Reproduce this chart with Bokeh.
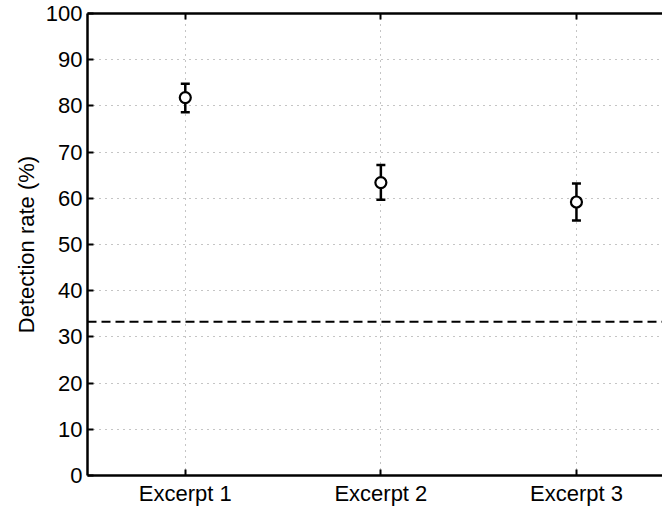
from bokeh.plotting import figure
from bokeh.models import Range1d, LinearAxis, FixedTicker, Span, Whisker, ColumnDataSource, CustomJSTickFormatter
from bokeh.embed import file_html
from bokeh.resources import INLINE

categories = ["Excerpt 1", "Excerpt 2", "Excerpt 3"]
positions = [1, 2, 3]
means = [81.8, 63.4, 59.2]
upper = [84.8, 67.2, 63.2]
lower = [78.6, 59.7, 55.2]
chance = 33.3
y_ticks = list(range(0, 101, 10))

FONT = "Liberation Sans"
FS = "22px"

p = figure(width=662, height=508, output_backend="svg", toolbar_location=None,
           x_range=Range1d(0.5, 3.44), y_range=Range1d(0, 100),
           min_border_left=87, min_border_right=0, min_border_top=13, min_border_bottom=33)
p.outline_line_color = None
p.background_fill_color = "white"

for g in (p.xgrid, p.ygrid):
    g.grid_line_color = "#8a8a8a"
    g.grid_line_dash = "1 5"
    g.grid_line_width = 1
p.xaxis.ticker = FixedTicker(ticks=positions)
p.yaxis.ticker = FixedTicker(ticks=y_ticks)
p.xaxis.major_label_overrides = {pos: c for pos, c in zip(positions, categories)}

for ax in (p.xaxis, p.yaxis):
    ax.axis_line_width = 2.5
    ax.axis_line_color = "black"
    ax.major_tick_in = 6
    ax.major_tick_out = 0
    ax.major_tick_line_width = 2
    ax.minor_tick_line_color = None
    ax.major_label_text_font = FONT
    ax.major_label_text_font_size = FS
    ax.major_label_text_color = "black"
    ax.major_label_standoff = 5

p.yaxis.axis_label = "Detection rate (%)"
p.yaxis.axis_label_text_font = FONT
p.yaxis.axis_label_text_font_size = FS
p.yaxis.axis_label_text_font_style = "normal"
p.yaxis.axis_label_text_color = "black"
p.yaxis.axis_label_standoff = 4

top = LinearAxis(ticker=FixedTicker(ticks=positions), axis_line_width=2.5,
                 major_tick_in=6, major_tick_out=0, major_tick_line_width=2,
                 minor_tick_line_color=None,
                 formatter=CustomJSTickFormatter(code="return ''"),
                 major_label_standoff=0)
p.add_layout(top, "above")

p.add_layout(Span(location=chance, dimension="width", line_color="black",
                  line_width=2, line_dash="9 5"))

src = ColumnDataSource(dict(x=positions, y=means, lo=lower, hi=upper))
w = Whisker(base="x", upper="hi", lower="lo", source=src, line_width=2.5,
            line_color="black")
w.upper_head.size = 9
w.lower_head.size = 9
w.upper_head.line_width = 2.5
w.lower_head.line_width = 2.5
p.add_layout(w)
p.scatter("x", "y", source=src, size=11, fill_color="white", line_color="black",
          line_width=2.2)

open("out.html", "w").write(file_html(p, INLINE))
